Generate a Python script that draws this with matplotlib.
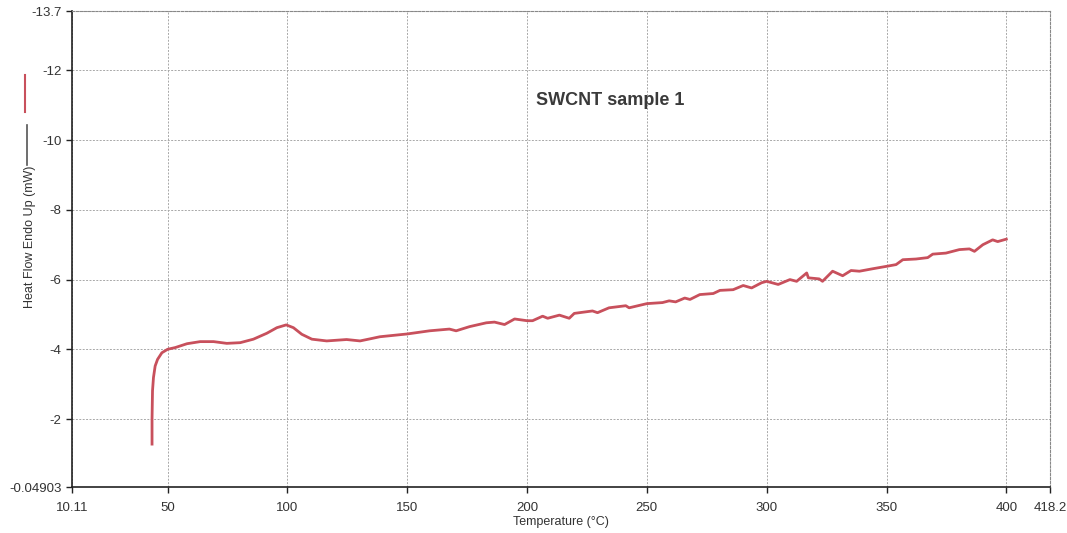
import matplotlib.pyplot as plt
from matplotlib.lines import Line2D

plt.rcParams['font.family'] = ['Liberation Sans', 'DejaVu Sans']

# DSC trace
temp_c = [43.5, 43.5, 43.7, 44.1, 44.8, 45.8, 47.6, 50.0, 53.2, 58.1, 63.6, 69.2, 74.7,
          80.3, 85.8, 91.4, 95.6, 99.5, 102.5, 106.0, 110.2, 116.4, 124.7, 130.3, 134.5,
          138.6, 150.0, 159.3, 167.6, 170.4, 176.0, 183.0, 186.4, 190.6, 194.8, 200.0,
          202.3, 206.5, 208.6, 213.5, 217.6, 219.7, 227.3, 229.4, 234.2, 241.2, 242.6,
          250.0, 256.5, 259.3, 262.0, 265.8, 268.0, 272.1, 277.7, 280.5, 286.0, 290.2,
          293.7, 297.9, 300.0, 304.8, 309.7, 312.5, 316.7, 317.4, 321.9, 323.3, 327.5,
          331.7, 335.2, 338.7, 344.2, 350.0, 354.0, 356.8, 362.3, 367.2, 369.3, 374.8,
          380.4, 384.6, 386.7, 390.2, 394.3, 396.4, 400.0]
heat_flow = [-1.28, -2.00, -2.81, -3.19, -3.52, -3.71, -3.90, -4.00, -4.05, -4.16, -4.22,
             -4.22, -4.17, -4.19, -4.29, -4.46, -4.62, -4.70, -4.62, -4.43, -4.29, -4.24,
             -4.28, -4.24, -4.30, -4.36, -4.44, -4.53, -4.58, -4.53, -4.65, -4.76, -4.78,
             -4.71, -4.87, -4.82, -4.82, -4.95, -4.89, -4.98, -4.89, -5.03, -5.10, -5.05,
             -5.19, -5.25, -5.19, -5.31, -5.34, -5.39, -5.36, -5.47, -5.43, -5.57, -5.60,
             -5.69, -5.71, -5.83, -5.76, -5.91, -5.95, -5.86, -6.00, -5.95, -6.19, -6.05,
             -6.02, -5.95, -6.24, -6.11, -6.26, -6.24, -6.31, -6.38, -6.43, -6.57, -6.59,
             -6.63, -6.73, -6.76, -6.86, -6.88, -6.81, -7.00, -7.14, -7.09, -7.16]

x_ticks = [10.11, 50, 100, 150, 200, 250, 300, 350, 400, 418.2]
x_tick_labels = ['10.11', '50', '100', '150', '200', '250', '300', '350', '400', '418.2']
y_ticks = [-13.7, -12, -10, -8, -6, -4, -2, -0.04903]
y_tick_labels = ['-13.7', '-12', '-10', '-8', '-6', '-4', '-2', '-0.04903']

fig = plt.figure(figsize=(10.67, 5.33), dpi=100)
ax = fig.add_axes([0.0675, 0.0863, 0.9165, 0.8927])

ax.plot(temp_c, heat_flow, color='#c8505c', lw=2)

ax.set_xlim(10.11, 418.2)
ax.set_ylim(-0.04903, -13.7)
ax.set_xticks(x_ticks)
ax.set_xticklabels(x_tick_labels)
ax.set_yticks(y_ticks)
ax.set_yticklabels(y_tick_labels)
ax.tick_params(labelsize=9.5, length=4, width=1, color='#222222', labelcolor='#333333')
ax.tick_params(axis='x', pad=7)

ax.grid(True, color='#a8a8a8', lw=0.7, ls=(0, (2, 1.5)))
for s in ['top', 'right']:
    ax.spines[s].set_color('#888888')
    ax.spines[s].set_linestyle((0, (2, 1.5)))
    ax.spines[s].set_linewidth(0.8)
for s in ['left', 'bottom']:
    ax.spines[s].set_color('#222222')
    ax.spines[s].set_linewidth(1.2)

ax.set_xlabel('Temperature (°C)', fontsize=9, color='#333333', labelpad=1)
fig.text(0.028, 0.555, 'Heat Flow Endo Up (mW)', rotation=90, fontsize=9,
         color='#333333', ha='center', va='center')
ax.text(0.474, 0.813, 'SWCNT sample 1', transform=ax.transAxes,
        fontsize=13, fontweight='bold', color='#3a3a3a', ha='left', va='center')

# legend swatches next to the y label
fig.add_artist(Line2D([0.0234, 0.0234], [0.79, 0.86], color='#c8505c', lw=1.5,
                      transform=fig.transFigure))
fig.add_artist(Line2D([0.0250, 0.0250], [0.69, 0.765], color='#555555', lw=1.2,
                      transform=fig.transFigure))

plt.savefig('out.png', dpi=100)
